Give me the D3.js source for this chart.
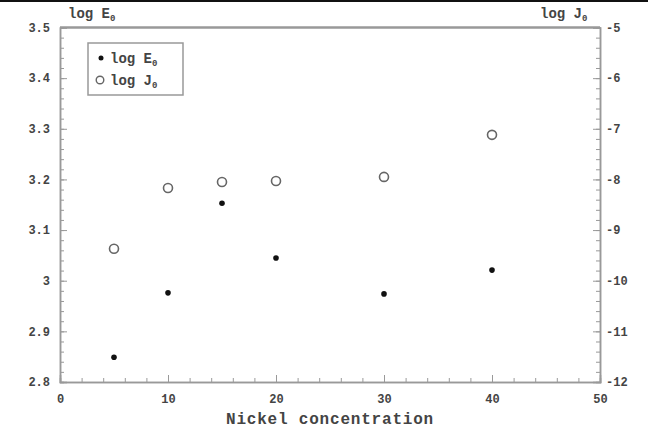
<!DOCTYPE html>
<html>
<head>
<meta charset="utf-8">
<script src="https://cdn.jsdelivr.net/npm/d3@7"></script>
<style>
  body { margin: 0; background: #fff; }
  svg text { font-family: "Liberation Mono", "DejaVu Sans Mono", monospace; fill: #444; font-weight: bold; }
</style>
</head>
<body>
<div id="chart"></div>
<script>
// Nickel concentration vs log E0 (left) and log J0 (right)
const nickel = [5, 10, 15, 20, 30, 40];
const logE0 = [2.849, 2.976, 3.153, 3.045, 2.974, 3.021];
const logJ0 = [-9.37, -8.17, -8.05, -8.03, -7.95, -7.12];
const xTicks = [0, 10, 20, 30, 40, 50];
const leftTicks = [2.8, 2.9, 3, 3.1, 3.2, 3.3, 3.4, 3.5];
const rightTicks = [-12, -11, -10, -9, -8, -7, -6, -5];

(function () {
  const W = 648, H = 434;
  const margin = { top: 27.5, right: 48, bottom: 52, left: 60 };
  const width = W - margin.left - margin.right;
  const height = H - margin.top - margin.bottom;
  const axisColor = "#999";

  const svg = d3.select("#chart").append("svg")
    .attr("width", W).attr("height", H);

  // dark line along the top edge of the scan
  svg.append("rect").attr("x", 0).attr("y", 0).attr("width", W).attr("height", 2).attr("fill", "#111");

  const g = svg.append("g").attr("transform", `translate(${margin.left},${margin.top})`);

  const x = d3.scaleLinear().domain([0, 50]).range([0, width]);
  const yL = d3.scaleLinear().domain([2.8, 3.5]).range([height, 0]);
  const yR = d3.scaleLinear().domain([-12, -5]).range([height, 0]);

  function styleAxis(sel) {
    sel.select(".domain").attr("stroke", axisColor).attr("stroke-width", 1.5);
    sel.selectAll(".tick line").attr("stroke", axisColor);
    sel.selectAll(".tick text").attr("font-size", "12px").attr("fill", "#555");
  }

  // minor ticks (inward)
  g.append("g").attr("transform", `translate(0,${height})`)
    .call(d3.axisBottom(x).tickValues(d3.range(0, 51, 2)).tickSize(-4).tickFormat(""))
    .call(styleAxis);
  g.append("g")
    .call(d3.axisLeft(yL).tickValues(d3.range(0, 36).map((i) => 2.8 + i * 0.02)).tickSize(-4).tickFormat(""))
    .call(styleAxis);
  g.append("g").attr("transform", `translate(${width},0)`)
    .call(d3.axisRight(yR).tickValues(d3.range(0, 36).map((i) => -12 + i * 0.2)).tickSize(-4).tickFormat(""))
    .call(styleAxis);

  // major ticks with labels
  g.append("g").attr("transform", `translate(0,${height})`)
    .call(d3.axisBottom(x).tickValues(xTicks).tickSize(-7).tickPadding(12).tickFormat((d) => String(d)))
    .call(styleAxis);
  g.append("g")
    .call(d3.axisLeft(yL).tickValues(leftTicks).tickSize(-7).tickPadding(10).tickFormat((d) => String(+d.toFixed(1))))
    .call(styleAxis);
  g.append("g").attr("transform", `translate(${width},0)`)
    .call(d3.axisRight(yR).tickValues(rightTicks).tickSize(-7).tickPadding(6).tickFormat((d) => String(d)))
    .call(styleAxis);

  // top frame
  g.append("line").attr("x1", 0).attr("x2", width).attr("y1", 0).attr("y2", 0)
    .attr("stroke", axisColor).attr("stroke-width", 2.5);

  // axis titles
  const t1 = svg.append("text").attr("x", 68).attr("y", 18).attr("font-size", "14px");
  t1.append("tspan").text("log E");
  t1.append("tspan").attr("font-size", "9px").attr("dy", 3).text("0");
  const t2 = svg.append("text").attr("x", 540).attr("y", 18).attr("font-size", "14px");
  t2.append("tspan").text("log J");
  t2.append("tspan").attr("font-size", "9px").attr("dy", 3).text("0");

  svg.append("text")
    .attr("x", margin.left + width / 2).attr("y", 424)
    .attr("text-anchor", "middle").attr("font-size", "16px")
    .attr("letter-spacing", "0.8px")
    .text("Nickel concentration");

  // data marks
  const pts = nickel.map((n, i) => ({ n, e: logE0[i], j: logJ0[i] }));
  g.selectAll(".ptJ").data(pts).join("circle").attr("class", "ptJ")
    .attr("cx", (d) => x(d.n)).attr("cy", (d) => yR(d.j)).attr("r", 4.5)
    .attr("fill", "none").attr("stroke", "#666").attr("stroke-width", 1.6);
  g.selectAll(".ptE").data(pts).join("circle").attr("class", "ptE")
    .attr("cx", (d) => x(d.n)).attr("cy", (d) => yL(d.e)).attr("r", 2.8)
    .attr("fill", "#111");

  // legend
  const lg = svg.append("g").attr("transform", "translate(88,43)");
  lg.append("rect").attr("width", 95).attr("height", 52)
    .attr("fill", "#fff").attr("stroke", axisColor).attr("stroke-width", 1.5);
  lg.append("circle").attr("cx", 13).attr("cy", 15).attr("r", 2.5).attr("fill", "#111");
  lg.append("circle").attr("cx", 12).attr("cy", 37).attr("r", 3.8)
    .attr("fill", "none").attr("stroke", "#666").attr("stroke-width", 1.4);
  [["log E", 20], ["log J", 42]].forEach(([lab, yy]) => {
    const t = lg.append("text").attr("x", 22).attr("y", yy).attr("font-size", "14px");
    t.append("tspan").text(lab);
    t.append("tspan").attr("font-size", "9px").attr("dy", 3).text("0");
  });
})();
</script>
</body>
</html>
